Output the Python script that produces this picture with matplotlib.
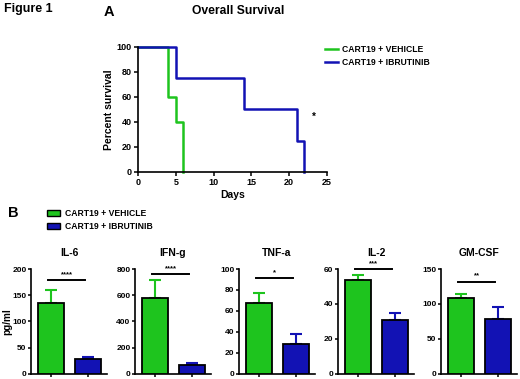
import matplotlib
matplotlib.use("Agg")
import matplotlib.pyplot as plt
from matplotlib.patches import Patch
from matplotlib.lines import Line2D

plt.rcParams['font.family'] = ['Liberation Sans', 'DejaVu Sans']
plt.rcParams['font.weight'] = 'bold'
plt.rcParams['axes.labelweight'] = 'bold'
plt.rcParams['axes.titleweight'] = 'bold'

# --- data ---
groups = ['CART19 + VEHICLE', 'CART19 + IBRUTINIB']
green = '#1EC41E'
blue = '#1212B4'

# Kaplan-Meier steps (day, percent survival)
veh_days = [0, 4, 5, 6]
veh_surv = [100, 60, 40, 0]
ibr_days = [0, 5, 14, 21, 22]
ibr_surv = [100, 75, 50, 25, 0]

# cytokines
cytokines = ['IL-6', 'IFN-g', 'TNF-a', 'IL-2', 'GM-CSF']
veh_mean = [136, 580, 68, 53.7, 108]
veh_err = [24, 135, 9, 2.7, 6]
ibr_mean = [28, 70, 28.5, 31, 79]
ibr_err = [4.5, 12, 9, 4, 16]
ymax = [200, 800, 100, 60, 150]
ystep = [50, 200, 20, 20, 50]
sig_stars = ['****', '****', '*', '***', '**']
sig_y = [179, 762, 91, 60, 132]

W, H = 520, 379
fig = plt.figure(figsize=(W / 100, H / 100), dpi=100)


def box(l, t, r, b):
    # pixel box -> figure fraction rect
    return [l / W, 1 - b / H, (r - l) / W, (b - t) / H]


def style(ax, size=6.5, pad=1.5, length=3):
    for s in ['top', 'right']:
        ax.spines[s].set_visible(False)
    for s in ['left', 'bottom']:
        ax.spines[s].set_linewidth(1.2)
    ax.tick_params(direction='out', length=length, width=1.1, labelsize=size, pad=pad)
    for lab in ax.get_xticklabels() + ax.get_yticklabels():
        lab.set_fontweight('bold')


# --- panel A: survival ---
axA = fig.add_axes(box(138, 46.7, 327, 172))
axA.step(veh_days, veh_surv, where='post', color=green, lw=1.8, clip_on=False)
axA.step(ibr_days, ibr_surv, where='post', color=blue, lw=1.8, clip_on=False)
axA.set_xlim(0, 25)
axA.set_ylim(0, 100)
axA.set_xticks(range(0, 26, 5))
axA.set_yticks(range(0, 101, 20))
axA.set_xlabel('Days', fontsize=7.5, labelpad=2)
axA.set_ylabel('Percent survival', fontsize=7.5, labelpad=2)
style(axA)
axA.text(23.2, 44, '*', fontsize=7, ha='center', va='center')

fig.legend(handles=[Line2D([], [], color=green, lw=1.8), Line2D([], [], color=blue, lw=1.8)],
           labels=groups, loc='upper left', bbox_to_anchor=(325 / W, 1 - 45 / H),
           frameon=False, fontsize=6.2, handlelength=1.5, handletextpad=0.5,
           labelspacing=0.45, borderpad=0, borderaxespad=0)

fig.text(4 / W, 1 - 9 / H, 'Figure 1', fontsize=9, va='center', ha='left')
fig.text(104 / W, 1 - 12 / H, 'A', fontsize=10.5, va='center', ha='left')
fig.text(238 / W, 1 - 11 / H, 'Overall Survival', fontsize=8.7, va='center', ha='center')
fig.text(8 / W, 1 - 213 / H, 'B', fontsize=10.5, va='center', ha='left')

fig.legend(handles=[Patch(facecolor=green, edgecolor='black', lw=1),
                    Patch(facecolor=blue, edgecolor='black', lw=1)],
           labels=groups, loc='upper left', bbox_to_anchor=(47 / W, 1 - 209 / H),
           frameon=False, fontsize=6.2, handlelength=1.5, handleheight=0.8,
           handletextpad=0.6, labelspacing=0.45, borderpad=0, borderaxespad=0)

# --- panel B: cytokine bars ---
lefts = [31, 135, 239, 338, 441]
for i, name in enumerate(cytokines):
    ax = fig.add_axes(box(lefts[i], 269, lefts[i] + 76, 373.7))
    ax.bar([0, 1], [veh_mean[i], ibr_mean[i]], width=0.7,
           color=[green, blue], edgecolor='black', linewidth=1.3, zorder=3)
    ax.errorbar([0], [veh_mean[i]], yerr=[[0], [veh_err[i]]], fmt='none',
                ecolor=green, elinewidth=1.5, capsize=4, capthick=1.5, zorder=2)
    ax.errorbar([1], [ibr_mean[i]], yerr=[[0], [ibr_err[i]]], fmt='none',
                ecolor=blue, elinewidth=1.5, capsize=4, capthick=1.5, zorder=2)
    ax.plot([-0.1, 0.92], [sig_y[i]] * 2, color='black', lw=1.4, clip_on=False)
    ax.annotate(sig_stars[i], (0.41, sig_y[i]), xytext=(0, 1.5), textcoords='offset points',
                ha='center', va='bottom', fontsize=5.5, annotation_clip=False)
    ax.set_xlim(-0.55, 1.5)
    ax.set_ylim(0, ymax[i])
    ax.set_yticks(range(0, ymax[i] + 1, ystep[i]))
    ax.set_xticks([0, 1])
    ax.set_xticklabels([])
    ax.set_title(name, fontsize=7.5, pad=9)
    style(ax, size=6, pad=0.8, length=2.5)
    if i == 0:
        ax.set_ylabel('pg/ml', fontsize=7.2)
        ax.yaxis.set_label_coords(-0.24, 0.5)

fig.savefig('out.png', dpi=100)
